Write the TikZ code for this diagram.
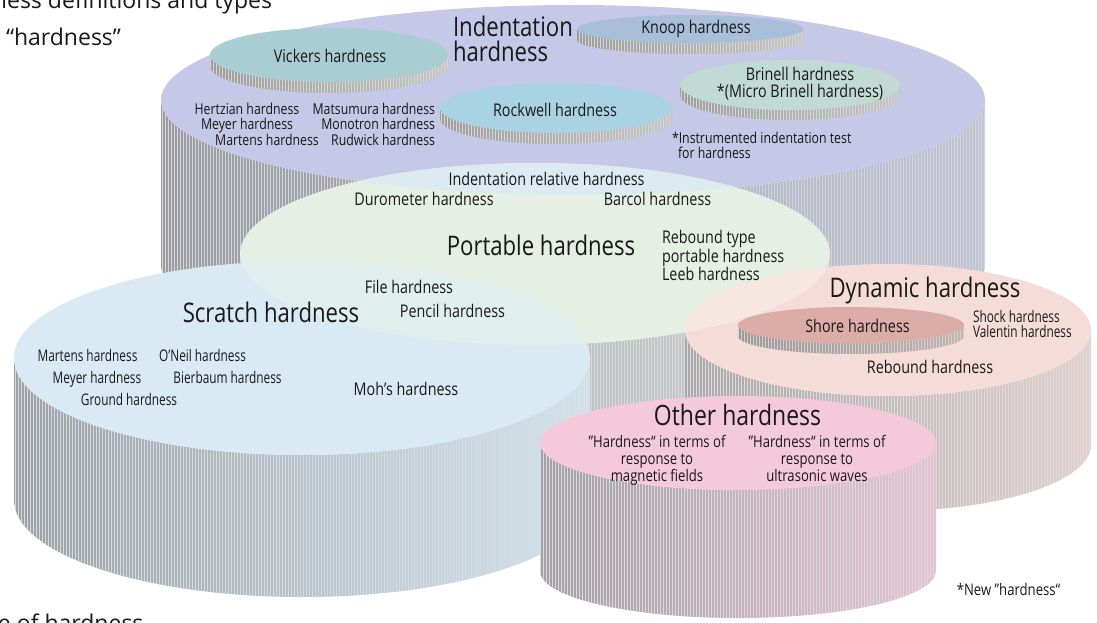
\documentclass[tikz,border=0pt]{standalone}
\usepackage{fontspec}
\usetikzlibrary{patterns}
\setmainfont{Open Sans}[FakeStretch=0.82]
\newfontfamily\cndf{Open Sans}[FakeStretch=0.74]
\newfontfamily\ttlf{Open Sans}

\definecolor{indtop}{HTML}{C5C8E6}
\definecolor{indL}{HTML}{9C9CA2}
\definecolor{indM}{HTML}{B0B2BE}
\definecolor{indR}{HTML}{C2C4D6}
\definecolor{knoopc}{HTML}{A9BFD9}
\definecolor{vickc}{HTML}{A8CDD3}
\definecolor{rockc}{HTML}{A9D2E3}
\definecolor{brinc}{HTML}{C1DAD3}
\definecolor{dkL}{HTML}{9E9E9E}
\definecolor{dkM}{HTML}{B4B4B4}
\definecolor{dkR}{HTML}{C6C6C6}
\definecolor{portc}{HTML}{E6EFE4}
\definecolor{portind}{HTML}{DCEBF1}
\definecolor{portL}{HTML}{A8ACAC}
\definecolor{portM}{HTML}{BCC0C0}
\definecolor{portR}{HTML}{CCD0D0}
\definecolor{scrc}{HTML}{D9EAF4}
\definecolor{scrport}{HTML}{E0EEEE}
\definecolor{scrL}{HTML}{9DA1A6}
\definecolor{scrM}{HTML}{B7BEC4}
\definecolor{scrR}{HTML}{D2E5EF}
\definecolor{dync}{HTML}{F6DCD9}
\definecolor{dynport}{HTML}{F6E8E0}
\definecolor{dynL}{HTML}{A9A9AB}
\definecolor{dynM}{HTML}{C4BDBE}
\definecolor{dynR}{HTML}{E2CFD0}
\definecolor{shorec}{HTML}{DCACA6}
\definecolor{shL}{HTML}{A09898}
\definecolor{shM}{HTML}{B2A8A8}
\definecolor{shR}{HTML}{C4B4B2}
\definecolor{othc}{HTML}{F4C9DA}
\definecolor{othL}{HTML}{A2A2A6}
\definecolor{othM}{HTML}{C0B8BD}
\definecolor{othR}{HTML}{E6C2D2}

% cx, cy, rx, ry, height, top colour, side left, side middle, side right
\newcommand\mycyl[9]{%
  \shade[left color=#7, middle color=#8, right color=#9,
         postaction={pattern=vertical lines, pattern color=#8!55!white}]
    (#1-#3,#2) -- (#1-#3,#2+#5)
    arc[start angle=180, end angle=0, x radius=#3, y radius=#4]
    -- (#1+#3,#2)
    arc[start angle=0, end angle=180, x radius=#3, y radius=#4] -- cycle;
  \fill[#6] (#1,#2) ellipse[x radius=#3, y radius=#4];
}

\tikzset{
  txt/.style={inner sep=0pt, outer sep=0pt, text=black!90},
  lbig/.style={txt, font=\fontsize{27}{27}\selectfont},
  lmid/.style={txt, font=\fontsize{17.5}{18}\selectfont},
  lsml/.style={txt, font=\fontsize{15}{16}\selectfont},
  lcnd/.style={txt, font=\cndf\fontsize{16}{17}\selectfont},
  lttl/.style={txt, font=\ttlf\fontsize{23}{24}\selectfont},
  lsub/.style={txt, font=\fontsize{16}{17}\selectfont, align=center},
}

\begin{document}
\begin{tikzpicture}[x=1pt, y=-1pt]
\useasboundingbox (0,0) rectangle (1097,623);
\clip (0,0) rectangle (1097,623);
\fill[white] (0,0) rectangle (1097,623);

% Indentation hardness cylinder
\mycyl{573}{100}{412}{95}{165}{indtop}{indL}{indM}{indR}
% small disks on it
\mycyl{690}{29}{113}{14}{11}{knoopc}{dkL}{dkM}{dkR}
\mycyl{329}{55}{119}{27}{11}{vickc}{dkL}{dkM}{dkR}
\mycyl{790}{85}{110}{25}{10}{brinc}{dkL}{dkM}{dkR}
\mycyl{556}{108}{116}{25}{11}{rockc}{dkL}{dkM}{dkR}

% Portable hardness
\mycyl{535}{254}{295}{91}{100}{portc}{portL}{portM}{portR}
\begin{scope}
  \clip (573,100) ellipse[x radius=412, y radius=95];
  \fill[portind] (535,254) ellipse[x radius=295, y radius=91];
\end{scope}

% Scratch hardness
\mycyl{302}{358}{288}{97}{142}{scrc}{scrL}{scrM}{scrR}
\begin{scope}
  \clip (302,358) ellipse[x radius=288, y radius=97];
  \fill[scrport] (535,254) ellipse[x radius=295, y radius=91];
\end{scope}

% Dynamic hardness
\mycyl{888}{330}{203}{66}{115}{dync}{dynL}{dynM}{dynR}
\begin{scope}
  \clip (888,330) ellipse[x radius=203, y radius=66];
  \fill[dynport] (535,254) ellipse[x radius=295, y radius=91];
\end{scope}
\mycyl{851}{325}{113}{18}{11}{shorec}{shL}{shM}{shR}

% Other hardness
\mycyl{738}{443}{198}{47}{128}{othc}{othL}{othM}{othR}

% ---- texts ----
\node[lttl, anchor=base west] (t1) at (-7,9) {ness definitions and types};
\node[lttl, anchor=base west] (t2) at (6,46) {“hardness”};
\node[lttl, anchor=base west] (t3) at (-2,631) {e of hardness};

\node[lbig, anchor=base west] (ind1) at (453,37) {Indentation};
\node[lbig, anchor=base west] (ind2) at (453,62) {hardness};
\node[lmid, anchor=base] (knoop) at (696,34) {Knoop hardness};
\node[lmid, anchor=base] (vick) at (330,63) {Vickers hardness};
\node[lmid, anchor=base] (rock) at (555,117) {Rockwell hardness};
\node[lmid, anchor=base] (brin1) at (800,81) {Brinell hardness};
\node[lmid, anchor=base] (brin2) at (800,98) {*(Micro Brinell hardness)};
\node[lsml, anchor=base west] (ins1) at (672,143) {*Instrumented indentation test};
\node[lsml, anchor=base west] (ins2) at (678,158) {for hardness};

\node[lsml, anchor=base] (hz) at (247,114) {Hertzian hardness};
\node[lsml, anchor=base] (my) at (247,130) {Meyer hardness};
\node[lsml, anchor=base] (mt) at (267,146) {Martens hardness};
\node[lsml, anchor=base east] (ms) at (435,114) {Matsumura hardness};
\node[lsml, anchor=base east] (mn) at (435,130) {Monotron hardness};
\node[lsml, anchor=base east] (rw) at (435,146) {Rudwick hardness};

\node[lmid, anchor=base] (irh) at (546.5,185) {Indentation relative hardness};
\node[lmid, anchor=base] (dur) at (424,205) {Durometer hardness};
\node[lmid, anchor=base] (bar) at (657.5,205) {Barcol hardness};
\node[lbig, anchor=base] (port) at (541,255) {Portable hardness};
\node[lmid, anchor=base west] (rb1) at (662,243) {Rebound type};
\node[lmid, anchor=base west] (rb2) at (662,262) {portable hardness};
\node[lmid, anchor=base west] (rb3) at (662,280) {Leeb hardness};

\node[lmid, anchor=base] (file) at (409,293) {File hardness};
\node[lmid, anchor=base] (pen) at (452.5,317) {Pencil hardness};
\node[lbig, anchor=base] (scr) at (271,322) {Scratch hardness};
\node[lcnd, anchor=base] (smt) at (87.5,361) {Martens hardness};
\node[lcnd, anchor=base] (son) at (202.5,361) {O’Neil hardness};
\node[lcnd, anchor=base] (smy) at (97,383) {Meyer hardness};
\node[lcnd, anchor=base] (sbb) at (227.5,383) {Bierbaum hardness};
\node[lcnd, anchor=base] (sgr) at (129,405) {Ground hardness};
\node[lmid, anchor=base] (moh) at (406,395) {Moh’s hardness};

\node[lbig, anchor=base] (dyn) at (925,297) {Dynamic hardness};
\node[lmid, anchor=base] (shore) at (857.5,332) {Shore hardness};
\node[lcnd, anchor=base west] (shk) at (973,322) {Shock hardness};
\node[lcnd, anchor=base west] (val) at (973,337) {Valentin hardness};
\node[lmid, anchor=base] (reb) at (930,373) {Rebound hardness};

\node[lbig, font=\fontsize{28}{28}\selectfont, anchor=base] (oth) at (737.5,425) {Other hardness};
\node[lsub, anchor=base] (mag) at (657,481) {”Hardness“ in terms of\\response to\\magnetic fields};
\node[lsub, anchor=base] (ult) at (817,481) {”Hardness“ in terms of\\response to\\ultrasonic waves};

\node[lsub, anchor=base] (new) at (1008.5,595) {*New ”hardness“};
\end{tikzpicture}
\end{document}
